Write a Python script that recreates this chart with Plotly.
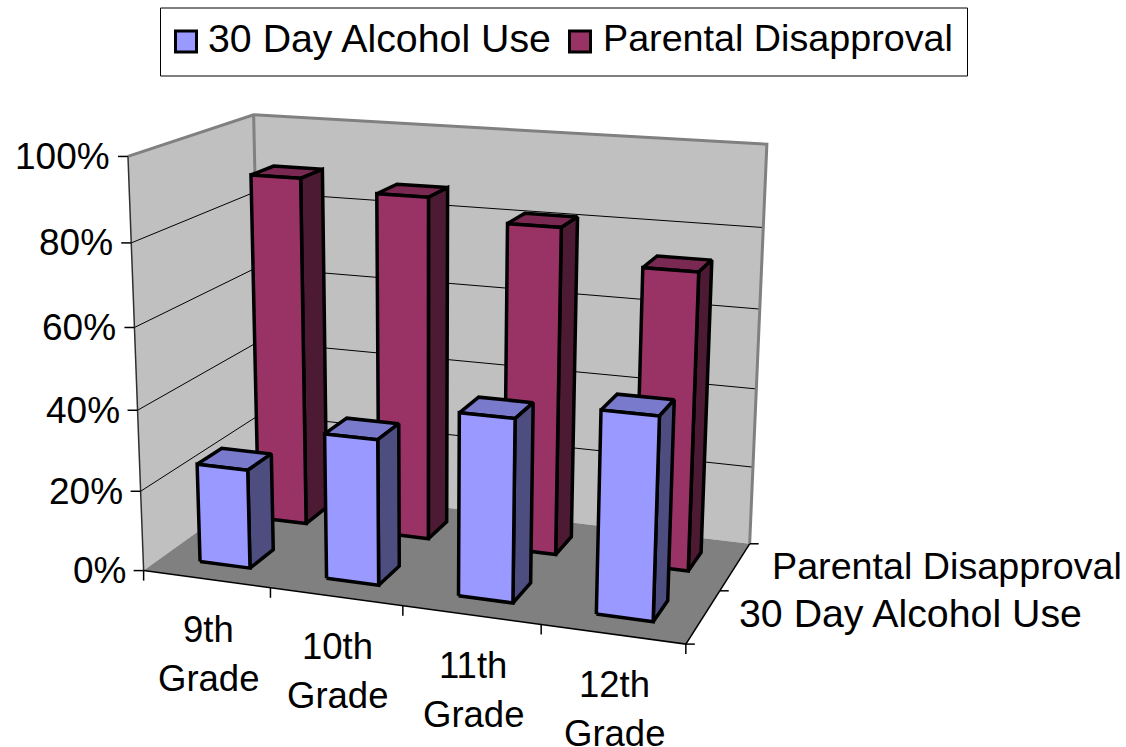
import numpy as np
import plotly.graph_objects as go

categories = ["9th<br>Grade", "10th<br>Grade", "11th<br>Grade", "12th<br>Grade"]
series_names = ["30 Day Alcohol Use", "Parental Disapproval"]
alcohol_use = [0.247, 0.358, 0.443, 0.483]
parental_disapproval = [0.89, 0.865, 0.815, 0.734]
value_ticks = [0, 0.2, 0.4, 0.6, 0.8, 1.0]
value_tick_labels = ["0%", "20%", "40%", "60%", "80%", "100%"]

FACE = ["#9999FF", "#993366"]
TOP = ["#7A7ACC", "#7A2952"]
SIDE = ["#4D4D80", "#4D1A33"]
WALL, FLOOR, EDGE = "#C0C0C0", "#808080", "#808080"
FONT = "Liberation Sans"

# Calibration of the oblique 3-D view: (category, series, value) -> page pixel
world = np.array([(0,0,0),(4,0,0),(4,2,0),(0,2,0),(0,0,1),(0,2,1),(4,2,1),(0,0,.8),(4,2,.8),
                  (1,0,0),(2,0,0),(3,0,0),(4,1,0)], float)
pix = np.array([(143,570),(685,644),(750,543),(262,486),(128,156),(253,115),(768,144),(132,243),
                (762,228),(271,588),(402,606),(542,625),(720,591)], float)
A = []
for (X, Y, Z), (u, v) in zip(world, pix):
    A.append([X, Y, Z, 1, 0, 0, 0, 0, -u*X, -u*Y, -u*Z, -u])
    A.append([0, 0, 0, 0, X, Y, Z, 1, -v*X, -v*Y, -v*Z, -v])
P = np.linalg.svd(np.array(A))[2][-1].reshape(3, 4)


def proj(x, y, z):
    h = P @ np.array([x, y, z, 1.0])
    return h[0]/h[2], h[1]/h[2]


fig = go.Figure()


def poly(points, fill=None, color=None, width=0, name=""):
    xy = [proj(*p) for p in points]
    if fill:
        xy.append(xy[0])
    fig.add_trace(go.Scatter(
        x=[a for a, _ in xy], y=[b for _, b in xy], mode="lines", name=name,
        fill="toself" if fill else None, fillcolor=fill, hoverinfo="skip", showlegend=False,
        line=dict(color=color or "rgba(0,0,0,0)", width=width)))


def tick(x, y, z, dx, dy):
    u, v = proj(x, y, z)
    fig.add_trace(go.Scatter(x=[u, u+dx], y=[v, v+dy], mode="lines", hoverinfo="skip",
                             showlegend=False, line=dict(color="black", width=1.5)))


nc, ns = len(categories), len(series_names)
poly([(0,0,0),(0,ns,0),(0,ns,1),(0,0,1)], WALL, name="side wall")
poly([(0,ns,0),(nc,ns,0),(nc,ns,1),(0,ns,1)], WALL, name="back wall")
poly([(0,0,0),(nc,0,0),(nc,ns,0),(0,ns,0)], FLOOR, name="floor")
for v in value_ticks[1:-1]:
    poly([(0,0,v),(0,ns,v),(nc,ns,v)], None, "black", 1, "grid")
poly([(0,0,1),(0,ns,1),(nc,ns,1),(nc,ns,0)], None, EDGE, 3, "wall edge")
poly([(0,ns,1),(0,ns,0.6)], None, EDGE, 3, "wall edge")
poly([(0,0,1),(0,0,0)], None, "#303030", 1.5, "value axis")
poly([(0,0,0),(nc,0,0),(nc,ns,0)], None, "black", 1.5, "floor edge")
for v in value_ticks:
    tick(0, 0, v, -10, 0)
for c in range(1, nc+1):
    tick(c, 0, 0, 0, 10)
tick(0, 0, 0, 0, 10)
for s in range(ns+1):
    tick(nc, s, 0, 9, 0)

BX0, BX1, BY0, BY1 = 0.3, 0.7, 0.3, 0.7
for s, vals in reversed(list(enumerate([alcohol_use, parental_disapproval]))):
    for c, val in enumerate(vals):
        x0, x1, y0, y1 = c+BX0, c+BX1, s+BY0, s+BY1
        nm = f"{series_names[s]} {categories[c]}"
        poly([(x0,y0,val),(x1,y0,val),(x1,y1,val),(x0,y1,val)], TOP[s], "black", 3.5, nm)
        poly([(x1,y0,0),(x1,y1,0),(x1,y1,val),(x1,y0,val)], SIDE[s], "black", 3.5, nm)
        poly([(x0,y0,0),(x1,y0,0),(x1,y0,val),(x0,y0,val)], FACE[s], "black", 3.5, nm)

ann = []
for v, lab in zip(value_ticks, value_tick_labels):
    u, w = proj(0, 0, v)
    ann.append(dict(x=u-16, y=w, text=lab, xanchor="right", yanchor="middle", font_size=37))
for c, lab in enumerate(categories):
    u, w = proj(c+0.5, 0, 0)
    for k, part in enumerate(lab.split("<br>")):
        # anchored at the glyph bottom region so that the last line stays inside the page
        ann.append(dict(x=u+2, y=w+50+49*k, text=part, xanchor="center", yanchor="middle",
                        font_size=36.5))
ann.append(dict(x=770, y=566, text=series_names[1], xanchor="left", yanchor="middle", font_size=37.7))
ann.append(dict(x=737, y=613, text=series_names[0], xanchor="left", yanchor="middle", font_size=39.3))
ann.append(dict(x=206, y=38, text=series_names[0], xanchor="left", yanchor="middle", font_size=39.3))
ann.append(dict(x=601, y=38, text=series_names[1], xanchor="left", yanchor="middle", font_size=37.7))
for a in ann:
    a.update(xref="x", yref="y", showarrow=False)
    a["font"] = dict(family=FONT, color="black", size=a.pop("font_size"))

fig.add_trace(go.Scatter(x=[186, 580], y=[41.5, 41.5], mode="markers", hoverinfo="skip", showlegend=False,
                         marker=dict(symbol="square", size=21, color=FACE,
                                     line=dict(color="black", width=3))))

fig.update_layout(
    width=1126, height=747, margin=dict(l=0, r=0, t=0, b=0), showlegend=False,
    paper_bgcolor="white", plot_bgcolor="white", annotations=ann,
    xaxis=dict(range=[0, 1126], visible=False, fixedrange=True),
    yaxis=dict(range=[747, 0], visible=False, fixedrange=True),
    shapes=[dict(type="rect", xref="x", yref="y", x0=160.5, x1=967.5, y0=8, y1=76,
                 line=dict(color="black", width=1), layer="below")],
)
fig.write_html("out.html", config=dict(displayModeBar=False),
               post_script="document.body.style.margin='0';document.body.style.overflow='hidden';")
